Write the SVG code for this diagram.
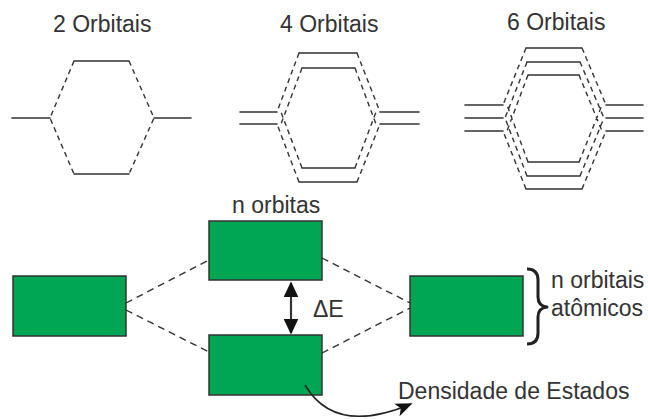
<svg xmlns="http://www.w3.org/2000/svg" width="648" height="419" viewBox="0 0 648 419">
<defs>
<style>
.t{font-family:"Liberation Sans",Arial,sans-serif;font-size:23px;fill:#333}
.s{stroke:#333;stroke-width:1.6;fill:none;stroke-linecap:round}
.d{stroke:#333;stroke-width:1.4;fill:none;stroke-dasharray:5 4}
.dc{stroke:#333;stroke-width:1.4;fill:none;stroke-dasharray:7 5}
.box{fill:#00a651;stroke:#333;stroke-width:1.5}
</style>
<marker id="ah" viewBox="0 0 10 10" refX="9" refY="5" markerWidth="16" markerHeight="15" orient="auto-start-reverse" markerUnits="userSpaceOnUse" preserveAspectRatio="none">
<path d="M0,0 L10,5 L0,10 z" fill="#111"/>
</marker>
<marker id="ah2" viewBox="0 0 10 10" refX="9" refY="5" markerWidth="17" markerHeight="15" orient="auto" markerUnits="userSpaceOnUse" preserveAspectRatio="none">
<path d="M0,0.5 L10,5 L0,9.5 L2.5,5 z" fill="#111"/>
</marker>
</defs>
<rect width="648" height="419" fill="#fff"/>

<g id="titles">
<text class="t" x="53" y="32">2 Orbitais</text>
<text class="t" x="280" y="32">4 Orbitais</text>
<text class="t" x="507" y="30">6 Orbitais</text>
</g>

<g id="mo2">
<path class="s" d="M12,118 H50 M154,118 H191 M74,61 H129 M74,174 H129"/>
<path class="d" d="M74,61 L50,118 L74,174 M129,61 L154,118 L129,174"/>
</g>

<g id="mo4">
<path class="s" d="M240,112 H277 M240,124 H277 M380,112 H419 M380,124 H419 M299,53 H357 M302,68 H355 M302,168 H355 M299,182 H357"/>
<path class="d" d="M299,53 L277,112 M299,182 L277,124 M302,68 L281,124 M302,168 L281,112 M357,53 L380,112 M357,182 L380,124 M355,68 L376,124 M355,168 L376,112"/>
</g>

<g id="mo6">
<path class="s" d="M465,105 H503 M465,118 H503 M465,131 H503 M606,105 H643 M606,118 H643 M606,131 H643 M526,48 H582 M527,62 H580 M528,75 H579 M528,162 H579 M527,176 H580 M526,189 H582"/>
<path class="d" d="M526,48 L503,105 M526,189 L503,131 M527,62 L505,118 M527,176 L505,118 M528,75 L507,131 M528,162 L507,105 M582,48 L606,105 M582,189 L606,131 M580,62 L604,118 M580,176 L604,118 M579,75 L602,131 M579,162 L602,105"/>
</g>

<g id="atom-left"><rect class="box" x="13" y="276" width="113" height="60"/></g>
<g id="band-upper">
<rect class="box" x="209" y="221" width="113" height="59"/>
<text class="t" x="232" y="213">n orbitas</text>
</g>
<g id="band-lower"><rect class="box" x="209" y="335" width="113" height="60"/></g>
<g id="atom-right"><rect class="box" x="410" y="276" width="113" height="60"/></g>

<g id="connectors">
<path class="dc" d="M126,303 L209,260 M126,310 L209,352 M322,258 L410,303 M322,353 L410,308"/>
<line x1="291" y1="283" x2="291" y2="333" stroke="#333" stroke-width="2.2" marker-start="url(#ah)" marker-end="url(#ah)"/>
<path d="M305,385 Q335,436 411,404" stroke="#222" stroke-width="1.5" fill="none" marker-end="url(#ah2)"/>
</g>

<g id="gap-label"><text class="t" x="313" y="317">ΔE</text></g>

<g id="brace-label">
<path d="M527,269 Q538,269 538,280 L538,297 Q538,306 547,307 Q538,308 538,317 L538,333 Q538,344 527,344" stroke="#222" stroke-width="3" fill="none" stroke-linejoin="round"/>
<text class="t" x="551" y="288">n orbitais</text>
<text class="t" x="551" y="316">atômicos</text>
</g>

<g id="dos-label"><text class="t" x="398" y="399">Densidade de Estados</text></g>
</svg>
